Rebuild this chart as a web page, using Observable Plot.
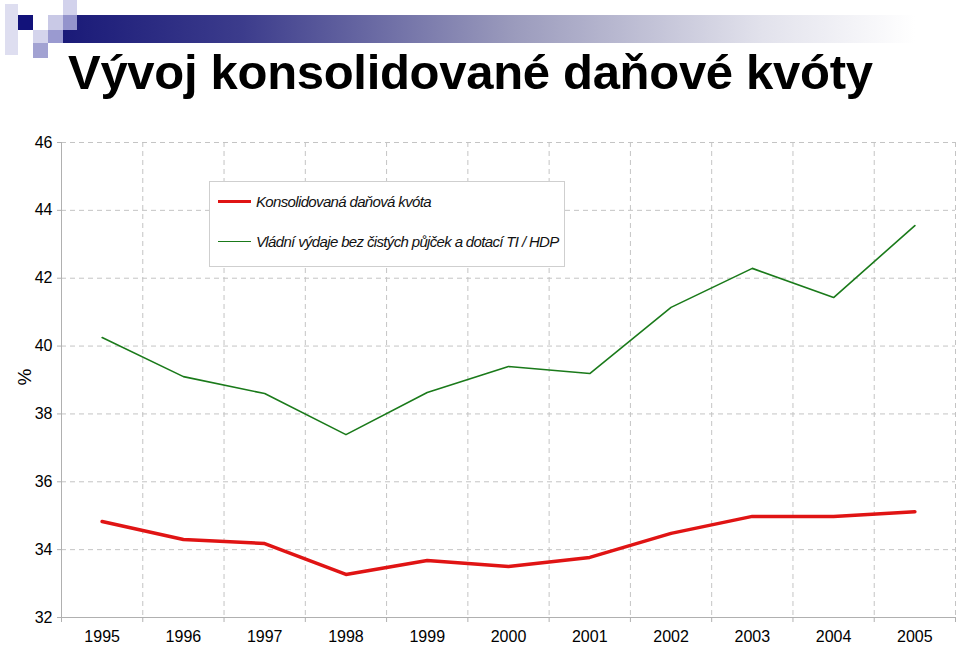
<!DOCTYPE html>
<html>
<head>
<meta charset="utf-8">
<script src="https://cdn.jsdelivr.net/npm/d3@7"></script>
<script src="https://cdn.jsdelivr.net/npm/@observablehq/plot@0.6"></script>
<style>
  html, body { margin: 0; padding: 0; background: #fff; }
  #page { position: relative; width: 960px; height: 645px; overflow: hidden; font-family: "Liberation Sans", Arial, sans-serif; }
  #bar { position: absolute; left: 63px; top: 15px; width: 897px; height: 28px;
         background: linear-gradient(to right, #1a1a78 0%, #3c3c8c 20%, #9a9abc 50%, #e2e2ec 78%, #ffffff 95%); }
  .sq { position: absolute; width: 15px; height: 15px; }
  #title { position: absolute; left: 68px; top: 44px; font-size: 49px; font-weight: bold; color: #000; white-space: nowrap; letter-spacing: -0.3px; }
  #chart { position: absolute; left: 0; top: 120px; }
  #ylabel { position: absolute; left: 17px; top: 366px; font-size: 19px; transform: rotate(-90deg); transform-origin: center; }
  #legend { position: absolute; left: 209px; top: 181px; width: 354px; height: 84px; background: #fff; border: 1px solid #cfcfcf; }
  .lg { position: absolute; left: 8px; height: 20px; display: flex; align-items: center; font-style: italic; font-size: 15px; letter-spacing: -0.65px; color: #111; white-space: nowrap; }
  .lg span.s { display: inline-block; width: 33px; margin-right: 5px; }
</style>
</head>
<body>
<div id="page">
  <div id="bar"></div>
  <div class="sq" style="left:5px;top:4px;width:13px;height:51px;background:#dedef0"></div>
  <div class="sq" style="left:18px;top:15px;background:#12127a"></div>
  <div class="sq" style="left:48px;top:15px;background:#c9c9e6"></div>
  <div class="sq" style="left:63px;top:0px;width:14px;background:#d2d2ec"></div>
  <div class="sq" style="left:63px;top:15px;width:14px;background:#9494cc"></div>
  <div class="sq" style="left:33px;top:30px;height:13px;background:#d4d4ec"></div>
  <div class="sq" style="left:48px;top:30px;height:13px;background:#9a9ad0"></div>
  <div class="sq" style="left:33px;top:43px;background:#a2a2d2"></div>
  <div id="title">Vývoj konsolidované daňové kvóty</div>
  <div id="chart"></div>
  <div id="ylabel">%</div>
  <div id="legend"></div>
</div>
<script>
const years = [1995, 1996, 1997, 1998, 1999, 2000, 2001, 2002, 2003, 2004, 2005];
const taxQuota = [34.83, 34.30, 34.18, 33.27, 33.68, 33.50, 33.77, 34.48, 34.98, 34.98, 35.12];
const spending = [40.25, 39.10, 38.60, 37.39, 38.63, 39.40, 39.19, 41.14, 42.29, 41.43, 43.55];
const yTicks = [32, 34, 36, 38, 40, 42, 44, 46];
const seriesNames = ["Konsolidovaná daňová kvóta", "Vládní výdaje bez čistých půjček a dotací TI / HDP"];
const seriesColors = ["#e01414", "#1a7a1a"];
const seriesWidths = [3.5, 1.6];

const boundaries = years.map(y => y - 0.5).concat([years[years.length - 1] + 0.5]);
const rows = [];
years.forEach((y, i) => {
  rows.push({year: y, value: taxQuota[i], series: seriesNames[0]});
  rows.push({year: y, value: spending[i], series: seriesNames[1]});
});

const gridColor = "#c4c4c4";
const chart = Plot.plot({
  width: 960,
  height: 525,
  marginTop: 22,
  marginBottom: 28,
  marginLeft: 61,
  marginRight: 5,
  style: {fontFamily: "'Liberation Sans', Arial, sans-serif", fontSize: "16px", color: "#000", background: "transparent", overflow: "visible"},
  x: {domain: [boundaries[0], boundaries[boundaries.length - 1]]},
  y: {domain: [yTicks[0], yTicks[yTicks.length - 1]]},
  marks: [
    Plot.ruleY(yTicks.slice(1), {stroke: gridColor, strokeDasharray: "5,4"}),
    Plot.ruleX(boundaries.slice(1), {stroke: gridColor, strokeDasharray: "5,4"}),
    Plot.ruleX(boundaries.slice(0, 1), {stroke: "#b0b0b0"}),
    Plot.ruleY(yTicks.slice(0, 1), {stroke: "#b0b0b0"}),
    Plot.axisY({ticks: yTicks, tickSize: 4, tickPadding: 5, label: null, stroke: "#b0b0b0", fill: "#000", fontSize: 16, style: {letterSpacing: "-1px"}}),
    Plot.axisX({ticks: boundaries, tickSize: 5, tickFormat: () => "", label: null, stroke: "#b0b0b0"}),
    Plot.axisX({ticks: years, tickSize: 0, tickPadding: 13, tickFormat: "d", label: null, fill: "#000", fontSize: 16, style: {letterSpacing: "-1px"}}),
    Plot.line(rows.filter(d => d.series === seriesNames[1]), {x: "year", y: "value", stroke: seriesColors[1], strokeWidth: seriesWidths[1]}),
    Plot.line(rows.filter(d => d.series === seriesNames[0]), {x: "year", y: "value", stroke: seriesColors[0], strokeWidth: seriesWidths[0]})
  ]
});
document.getElementById("chart").appendChild(chart);

const legend = document.getElementById("legend");
seriesNames.forEach((name, i) => {
  const row = document.createElement("div");
  row.className = "lg";
  row.style.top = (9 + i * 40) + "px";
  const s = document.createElement("span");
  s.className = "s";
  s.style.borderTop = seriesWidths[i] + "px solid " + seriesColors[i];
  row.appendChild(s);
  row.appendChild(document.createTextNode(name));
  legend.appendChild(row);
});
</script>
</body>
</html>
